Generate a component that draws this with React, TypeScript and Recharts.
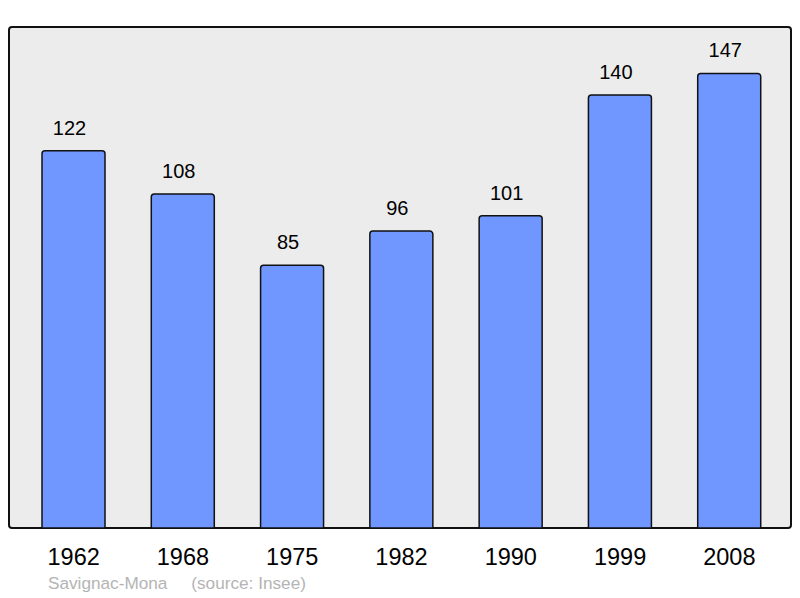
// Population chart: Savignac-Mona (source: Insee)
import { Bar, BarChart, LabelList, XAxis, YAxis } from "recharts";

const years = ["1962", "1968", "1975", "1982", "1990", "1999", "2008"];
const population = [122, 108, 85, 96, 101, 140, 147];

const data = years.map((year, i) => ({ year, pop: population[i] }));

const FONT = '"Liberation Sans", Arial, sans-serif';

export default function App() {
  return (
    <div style={{ position: "absolute", left: 0, top: 0, width: 800, height: 598, background: "#fff", fontFamily: FONT }}>
      {/* plot frame */}
      <div
        style={{
          position: "absolute",
          left: 8,
          top: 26,
          width: 780,
          height: 499,
          border: "2px solid #111",
          borderRadius: 4,
          background: "#ececec",
        }}
      />
      <div style={{ position: "absolute", left: 0, top: 0 }}>
        <BarChart
          width={800}
          height={598}
          data={data}
          margin={{ top: 27, right: 9, left: 9, bottom: 0 }}
          barCategoryGap={0}
        >
          <XAxis
            dataKey="year"
            height={70}
            axisLine={false}
            tickLine={false}
            tickMargin={14}
            padding={{ left: 10, right: 7 }}
            tick={{ fontSize: 23.5, fill: "#000", fontFamily: FONT }}
          />
          <YAxis hide domain={[0, 162]} />
          <Bar
            dataKey="pop"
            barSize={63}
            fill="#7096ff"
            stroke="#111"
            strokeWidth={1.5}
            radius={[3, 3, 0, 0]}
            isAnimationActive={false}
          >
            <LabelList
              dataKey="pop"
              position="top"
              offset={16}
              dx={-4}
              style={{ fontSize: 20, fill: "#000", fontFamily: FONT }}
            />
          </Bar>
        </BarChart>
      </div>
      <div
        style={{
          position: "absolute",
          left: 48,
          top: 573,
          fontSize: 17.2,
          color: "#b4b4b4",
          whiteSpace: "pre",
        }}
      >
        {"Savignac-Mona     (source: Insee)"}
      </div>
    </div>
  );
}
